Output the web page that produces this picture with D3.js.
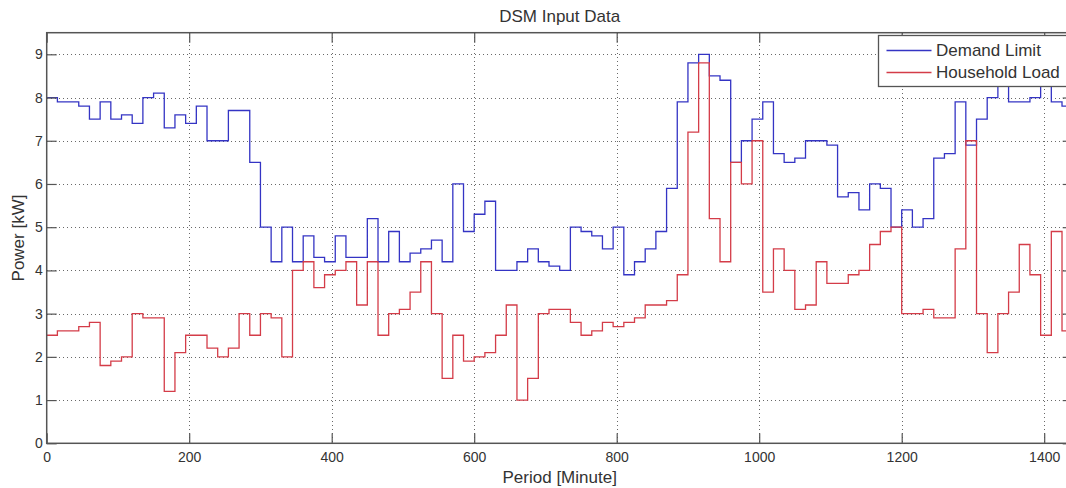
<!DOCTYPE html>
<html>
<head>
<meta charset="utf-8">
<script src="https://cdn.jsdelivr.net/npm/d3@7"></script>
<style>
  html, body { margin: 0; padding: 0; background: #fff; }
  svg { display: block; }
  text { font-family: "Liberation Sans", Arial, Helvetica, sans-serif; }
</style>
</head>
<body>
<svg id="chart" width="1066" height="488"></svg>
<script>
// ---- data ----
const stepMinutes = 15;
const xTickValues = [0, 200, 400, 600, 800, 1000, 1200, 1400];
const yTickValues = [0, 1, 2, 3, 4, 5, 6, 7, 8, 9];
const seriesNames = ["Demand Limit", "Household Load"];

const demandLimit = [
  8.0, 7.9, 7.9, 7.8, 7.5, 7.9, 7.5, 7.6, 7.4, 8.0, 8.1, 7.3, 7.6, 7.4, 7.8, 7.0,
  7.0, 7.7, 7.7, 6.5, 5.0, 4.2, 5.0, 4.2, 4.8, 4.3, 4.2, 4.8, 4.3, 4.3, 5.2, 4.2,
  4.9, 4.2, 4.4, 4.5, 4.7, 4.2, 6.0, 4.9, 5.3, 5.6, 4.0, 4.0, 4.2, 4.5, 4.2, 4.1,
  4.0, 5.0, 4.9, 4.8, 4.5, 5.0, 3.9, 4.2, 4.5, 4.9, 5.9, 7.9, 8.8, 9.0, 8.5, 8.4,
  6.5, 7.0, 7.5, 7.9, 6.7, 6.5, 6.6, 7.0, 7.0, 6.9, 5.7, 5.8, 5.4, 6.0, 5.9, 5.0,
  5.4, 5.0, 5.2, 6.6, 6.7, 7.9, 6.9, 7.5, 8.0, 8.4, 7.9, 7.9, 8.0, 8.4, 7.9, 7.8
];

const householdLoad = [
  2.5, 2.6, 2.6, 2.7, 2.8, 1.8, 1.9, 2.0, 3.0, 2.9, 2.9, 1.2, 2.1, 2.5, 2.5, 2.2,
  2.0, 2.2, 3.0, 2.5, 3.0, 2.9, 2.0, 4.0, 4.2, 3.6, 3.9, 4.0, 4.2, 3.2, 4.2, 2.5,
  3.0, 3.1, 3.5, 4.2, 3.0, 1.5, 2.5, 1.9, 2.0, 2.1, 2.5, 3.2, 1.0, 1.5, 3.0, 3.1,
  3.1, 2.8, 2.5, 2.6, 2.8, 2.7, 2.8, 2.9, 3.2, 3.2, 3.3, 3.9, 7.2, 8.8, 5.2, 4.2,
  6.5, 6.0, 7.0, 3.5, 4.5, 4.0, 3.1, 3.2, 4.2, 3.7, 3.7, 3.9, 4.0, 4.6, 4.9, 5.0,
  3.0, 3.0, 3.1, 2.9, 2.9, 4.5, 7.0, 3.0, 2.1, 3.0, 3.5, 4.6, 3.9, 2.5, 4.9, 2.6
];

// ---- layout ----
const W = 1066, H = 488;
const plot = { left: 46.7, top: 32.7, right: 1072.7, bottom: 443.3 };
const colors = { demand: "#3434c4", load: "#d43c48", axis: "#555", grid: "#444", text: "#333" };

const svg = d3.select("#chart");

const x = d3.scaleLinear().domain([0, 1440]).range([plot.left, plot.right]);
const y = d3.scaleLinear().domain([0, 9.5]).range([plot.bottom, plot.top]);

// white background
svg.append("rect").attr("x", 0).attr("y", 0).attr("width", W).attr("height", H).attr("fill", "#fff");

// grid
const grid = svg.append("g").attr("stroke", colors.grid).attr("stroke-width", 1)
  .attr("stroke-dasharray", "1,3").attr("shape-rendering", "crispEdges").attr("opacity", 0.8);
grid.selectAll("line.gx").data(xTickValues.filter(d => d > 0)).join("line")
  .attr("x1", d => Math.round(x(d)) + 0.5).attr("x2", d => Math.round(x(d)) + 0.5)
  .attr("y1", plot.top).attr("y2", plot.bottom);
grid.selectAll("line.gy").data(yTickValues.filter(d => d > 0)).join("line")
  .attr("y1", d => Math.round(y(d)) + 0.5).attr("y2", d => Math.round(y(d)) + 0.5)
  .attr("x1", plot.left).attr("x2", plot.right);

// series
function stepPoints(vals) {
  const pts = vals.map((v, i) => [i * stepMinutes, v]);
  pts.push([vals.length * stepMinutes, vals[vals.length - 1]]);
  return pts;
}
const line = d3.line().x(d => x(d[0])).y(d => y(d[1])).curve(d3.curveStepAfter);

svg.append("path").datum(stepPoints(demandLimit))
  .attr("fill", "none").attr("stroke", colors.demand).attr("stroke-width", 1.3).attr("d", line);
svg.append("path").datum(stepPoints(householdLoad))
  .attr("fill", "none").attr("stroke", colors.load).attr("stroke-width", 1.3).attr("d", line);

// axes (ticks inward)
function styleAxis(g) {
  g.select(".domain").remove();
  g.selectAll(".tick line").attr("stroke", colors.axis).attr("stroke-width", 1.2);
  g.selectAll(".tick text").attr("fill", colors.text).style("font-size", "14px")
    .style("font-family", '"Liberation Sans", Arial, sans-serif');
}
svg.append("g").attr("transform", `translate(0,${plot.bottom})`)
  .call(d3.axisBottom(x).tickValues(xTickValues).tickFormat(d3.format("d")).tickSizeInner(-10).tickSizeOuter(0).tickPadding(8.5))
  .call(styleAxis);
svg.append("g").attr("transform", `translate(0,${plot.top})`)
  .call(d3.axisTop(x).tickValues(xTickValues).tickFormat("").tickSizeInner(-10).tickSizeOuter(0))
  .call(styleAxis);
svg.append("g").attr("transform", `translate(${plot.left},0)`)
  .call(d3.axisLeft(y).tickValues(yTickValues).tickFormat(d3.format("d")).tickSizeInner(-10).tickSizeOuter(0).tickPadding(4))
  .call(styleAxis);
svg.append("g").attr("transform", `translate(${plot.right},0)`)
  .call(d3.axisRight(y).tickValues(yTickValues).tickFormat("").tickSizeInner(-10).tickSizeOuter(0))
  .call(styleAxis);

// box
svg.append("rect").attr("x", plot.left).attr("y", plot.top)
  .attr("width", plot.right - plot.left).attr("height", plot.bottom - plot.top)
  .attr("fill", "none").attr("stroke", colors.axis).attr("stroke-width", 1.5);

// title & labels
svg.append("text").attr("x", (plot.left + plot.right) / 2).attr("y", 21.5)
  .attr("text-anchor", "middle").attr("fill", colors.text).style("font-size", "17px").text("DSM Input Data");
svg.append("text").attr("x", (plot.left + plot.right) / 2).attr("y", 483)
  .attr("text-anchor", "middle").attr("fill", colors.text).style("font-size", "17px").text("Period [Minute]");
svg.append("text").attr("transform", `translate(24,${(plot.top + plot.bottom) / 2}) rotate(-90)`)
  .attr("text-anchor", "middle").attr("fill", colors.text).style("font-size", "17px").text("Power [kW]");

// legend
const legend = svg.append("g");
legend.append("rect").attr("x", 878.5).attr("y", 35.5).attr("width", 192).attr("height", 51)
  .attr("fill", "#fff").attr("stroke", colors.axis).attr("stroke-width", 1.3);
const legendItems = [
  { name: seriesNames[0], color: colors.demand, yc: 50.5 },
  { name: seriesNames[1], color: colors.load, yc: 72.5 }
];
legendItems.forEach(it => {
  legend.append("line").attr("x1", 886.5).attr("x2", 931.5).attr("y1", it.yc).attr("y2", it.yc)
    .attr("stroke", it.color).attr("stroke-width", 1.3);
  legend.append("text").attr("x", 936).attr("y", it.yc).attr("dy", "0.35em")
    .attr("fill", colors.text).style("font-size", "17px").text(it.name);
});
</script>
</body>
</html>
